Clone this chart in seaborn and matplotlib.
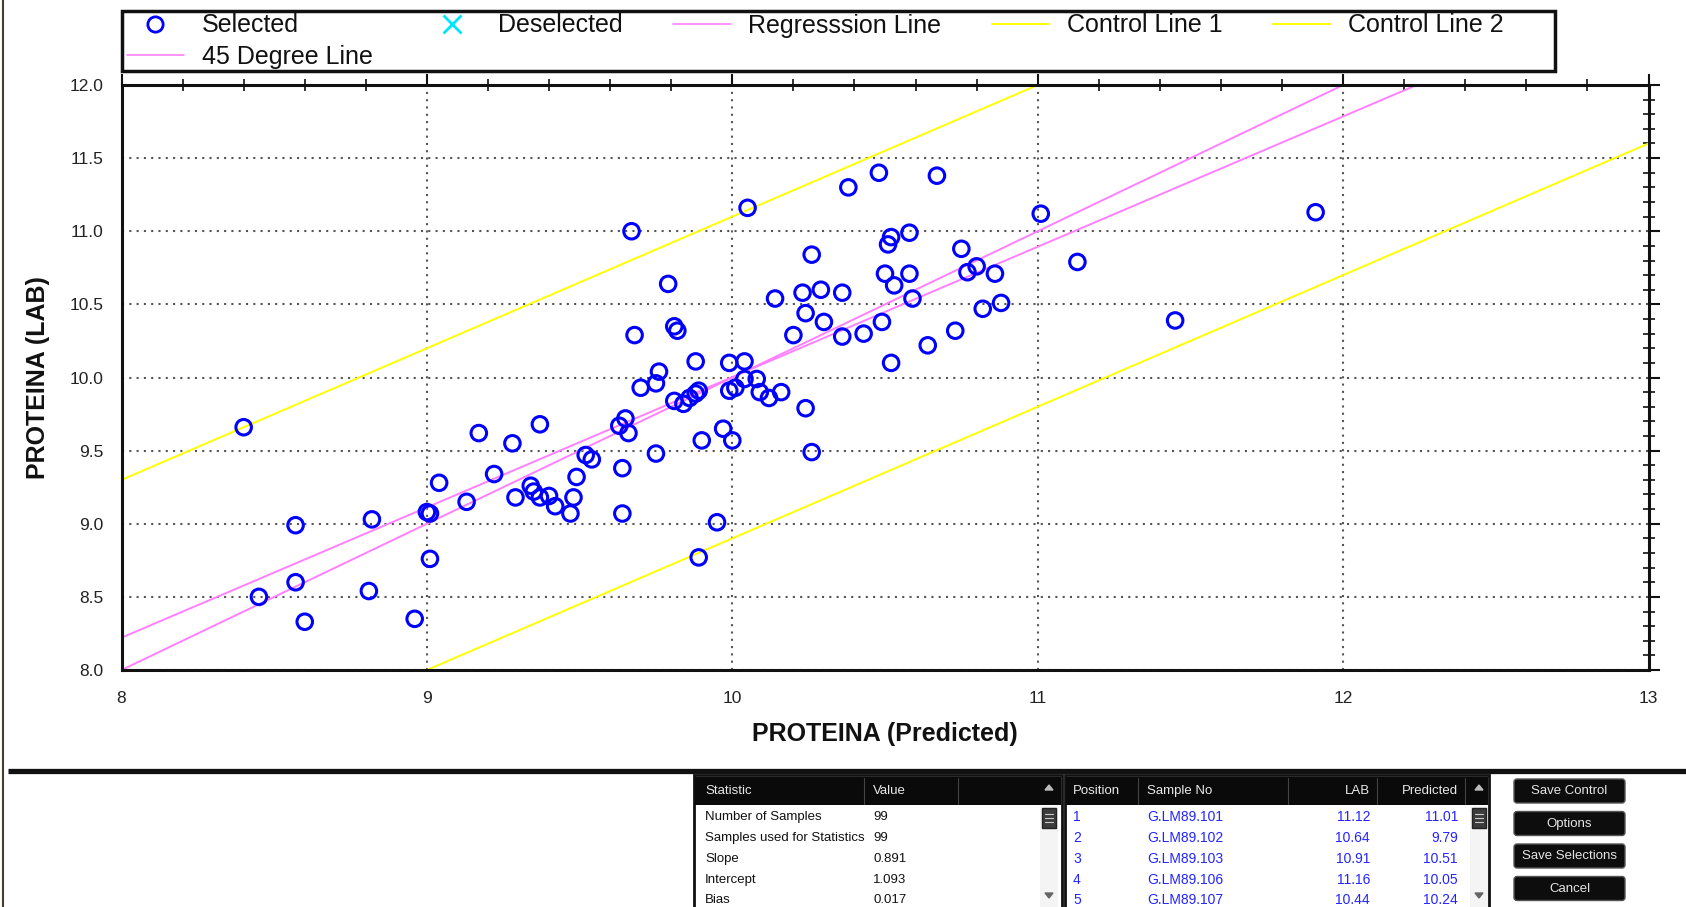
import matplotlib
import matplotlib.pyplot as plt
import numpy as np
import pandas as pd
import seaborn as sns
from matplotlib.lines import Line2D
from matplotlib.patches import FancyBboxPatch, Polygon, Rectangle
from matplotlib.ticker import FormatStrFormatter, MultipleLocator

matplotlib.use("Agg")

# PROTEINA predicted vs lab values
predicted = [
    8.40, 8.57, 8.57, 8.45, 8.60, 8.82, 8.81, 8.96, 9.00, 9.01,
    9.01, 9.04, 9.13, 9.17, 9.22, 9.28, 9.29, 9.34, 9.35, 9.37,
    9.37, 9.40, 9.42, 9.47, 9.48, 9.49, 9.52, 9.54, 9.63, 9.65,
    9.66, 9.64, 9.64, 9.67, 9.68, 9.70, 9.75, 9.75, 9.76, 9.79,
    9.81, 9.82, 9.81, 9.84, 9.86, 9.88, 9.89, 9.88, 9.90, 9.89,
    9.95, 9.97, 9.99, 10.00, 9.99, 10.01, 10.04, 10.04, 10.05, 10.08,
    10.09, 10.12, 10.16, 10.14, 10.20, 10.23, 10.24, 10.24, 10.26, 10.26,
    10.29, 10.30, 10.36, 10.36, 10.38, 10.43, 10.48, 10.49, 10.50, 10.51,
    10.52, 10.52, 10.53, 10.58, 10.58, 10.59, 10.64, 10.67, 10.73, 10.75,
    10.77, 10.80, 10.82, 10.86, 10.88, 11.01, 11.13, 11.45, 11.91,
]
lab = [
    9.66, 8.99, 8.60, 8.50, 8.33, 9.03, 8.54, 8.35, 9.08, 9.07,
    8.76, 9.28, 9.15, 9.62, 9.34, 9.55, 9.18, 9.26, 9.22, 9.68,
    9.18, 9.19, 9.12, 9.07, 9.18, 9.32, 9.47, 9.44, 9.67, 9.72,
    9.62, 9.38, 9.07, 11.00, 10.29, 9.93, 9.48, 9.96, 10.04, 10.64,
    10.35, 10.32, 9.84, 9.82, 9.86, 9.89, 9.91, 10.11, 9.57, 8.77,
    9.01, 9.65, 10.10, 9.57, 9.91, 9.93, 10.11, 9.99, 11.16, 9.99,
    9.90, 9.86, 9.90, 10.54, 10.29, 10.58, 10.44, 9.79, 9.49, 10.84,
    10.60, 10.38, 10.58, 10.28, 11.30, 10.30, 11.40, 10.38, 10.71, 10.91,
    10.96, 10.10, 10.63, 10.99, 10.71, 10.54, 10.22, 11.38, 10.32, 10.88,
    10.72, 10.76, 10.47, 10.71, 10.51, 11.12, 10.79, 10.39, 11.13,
]

reg_slope = 0.891
reg_intercept = 1.093
ctrl_slope = 0.9
ctrl1_intercept = 2.1
ctrl2_intercept = -0.1

stat_names = ["Number of Samples", "Samples used for Statistics", "Slope", "Intercept", "Bias"]
stat_values = ["99", "99", "0.891", "1.093", "0.017"]

sample_pos = ["1", "2", "3", "4", "5"]
sample_ids = ["G.LM89.101", "G.LM89.102", "G.LM89.103", "G.LM89.106", "G.LM89.107"]
sample_lab = ["11.12", "10.64", "10.91", "11.16", "10.44"]
sample_pred = ["11.01", "9.79", "10.51", "10.05", "10.24"]

buttons = ["Save Control", "Options", "Save Selections", "Cancel"]

W, H = 1686, 907
BLUE = "#0000ff"
PINK = "#ff80ff"
YELLOW = "#ffff00"

sns.set_theme(style="white")
plt.rcParams["font.family"] = ["Liberation Sans", "DejaVu Sans"]

fig = plt.figure(figsize=(W / 100, H / 100), dpi=100)

# background layer in pixel coordinates (legend frame, panel below the plot)
bg = fig.add_axes([0, 0, 1, 1])
bg.set_xlim(0, W)
bg.set_ylim(H, 0)
bg.axis("off")

bg.plot([3, 3], [0, H], color="#4a3b2c", lw=1.5)
bg.plot([8, W], [771, 771], color="#111111", lw=3.8, solid_capstyle="butt")
bg.add_patch(Rectangle((122, 11), 1433, 60, fc="white", ec="#111111", lw=2.5))

row_y = [817, 838, 859, 880, 900]


def scrollbar(x0, x1):
    bg.add_patch(Rectangle((x0, 806), x1 - x0, 110, fc="#f4f4f4", ec="none"))
    cx = (x0 + x1) / 2
    bg.add_patch(Polygon([[cx - 4, 790], [cx + 4, 790], [cx, 785]], color="#bbbbbb"))
    bg.add_patch(Polygon([[cx - 4, 893], [cx + 4, 893], [cx, 898]], color="#666666"))
    bg.add_patch(Rectangle((x0 + 2, 808), x1 - x0 - 4, 20, fc="#3c3c3c", ec="#222222"))
    for yy in (814, 818, 822):
        bg.plot([cx - 4, cx + 4], [yy, yy], color="#cccccc", lw=0.8)


# statistics table
bg.add_patch(Rectangle((694, 775), 368, 140, fc="white", ec="#111111", lw=2))
bg.add_patch(Rectangle((695, 777), 366, 28, fc="#0a0a0a", ec="none"))
for sx in (864, 958):
    bg.plot([sx, sx], [778, 804], color="#444444", lw=0.8)
bg.text(705, 791, "Statistic", color="#e8e8e8", fontsize=9.5, va="center")
bg.text(873, 791, "Value", color="#e8e8e8", fontsize=9.5, va="center")
scrollbar(1040, 1058)
for yy, name, val in zip(row_y, stat_names, stat_values):
    bg.text(705, yy, name, color="#111111", fontsize=9.5, va="center")
    bg.text(873, yy, val, color="#111111", fontsize=9.5, va="center")

# sample table
bg.add_patch(Rectangle((1065, 775), 424, 140, fc="white", ec="#111111", lw=2))
bg.add_patch(Rectangle((1066, 777), 422, 28, fc="#0a0a0a", ec="none"))
for sx in (1138, 1288, 1377, 1465):
    bg.plot([sx, sx], [778, 804], color="#444444", lw=0.8)
bg.text(1073, 791, "Position", color="#e8e8e8", fontsize=9.5, va="center")
bg.text(1147, 791, "Sample No", color="#e8e8e8", fontsize=9.5, va="center")
bg.text(1370, 791, "LAB", color="#e8e8e8", fontsize=9.5, va="center", ha="right")
bg.text(1458, 791, "Predicted", color="#e8e8e8", fontsize=9.5, va="center", ha="right")
scrollbar(1470, 1488)
for yy, p, sid, lv, pv in zip(row_y, sample_pos, sample_ids, sample_lab, sample_pred):
    bg.text(1073, yy, p, color="#2424ff", fontsize=10, va="center")
    bg.text(1147, yy, sid, color="#2424ff", fontsize=10, va="center")
    bg.text(1370, yy, lv, color="#2424ff", fontsize=10, va="center", ha="right")
    bg.text(1458, yy, pv, color="#2424ff", fontsize=10, va="center", ha="right")

# buttons
for i, label in enumerate(buttons):
    top = 779 + i * 32.5
    bg.add_patch(FancyBboxPatch((1514, top), 111, 24, boxstyle="round,pad=0,rounding_size=3",
                                fc="#0d0d0d", ec="#555555", lw=1))
    bg.text(1569.5, top + 12, label, color="#e4e4e4", fontsize=9.5, ha="center", va="center")

# main plot
ax = fig.add_axes([121.5 / W, 1 - 670 / H, (1648.5 - 121.5) / W, (670 - 85) / H])
ax.set_facecolor("white")

df = pd.DataFrame({"pred": predicted, "lab": lab})
xs = np.array([8.0, 13.0])
lines = pd.DataFrame({
    "x": xs,
    "reg": reg_slope * xs + reg_intercept,
    "ctrl1": ctrl_slope * xs + ctrl1_intercept,
    "ctrl2": ctrl_slope * xs + ctrl2_intercept,
    "deg45": xs,
})

sns.lineplot(data=lines, x="x", y="ctrl1", color=YELLOW, lw=1.4, ax=ax)
sns.lineplot(data=lines, x="x", y="ctrl2", color=YELLOW, lw=1.4, ax=ax)
sns.lineplot(data=lines, x="x", y="reg", color=PINK, lw=1.4, ax=ax)
sns.lineplot(data=lines, x="x", y="deg45", color=PINK, lw=1.4, ax=ax)
sns.scatterplot(data=df, x="pred", y="lab", marker="o", s=125, facecolors="none",
                edgecolor=BLUE, linewidth=2.2, ax=ax, zorder=5)

ax.set_xlim(8, 13)
ax.set_ylim(8, 12)
ax.xaxis.set_major_locator(MultipleLocator(1))
ax.xaxis.set_minor_locator(MultipleLocator(0.2))
ax.yaxis.set_major_locator(MultipleLocator(0.5))
ax.yaxis.set_minor_locator(MultipleLocator(0.1))
ax.yaxis.set_major_formatter(FormatStrFormatter("%.1f"))
ax.tick_params(which="major", direction="out", length=8, width=1.5, color="#111111",
               labelsize=12.5, labelcolor="#222222", top=True, right=True, pad=5)
ax.tick_params(which="minor", direction="inout", length=8, width=1.2, color="#111111",
               top=True, right=True)
ax.tick_params(axis="x", which="major", pad=7)
ax.grid(which="major", linestyle=(0, (1, 2.5)), color="#555555", linewidth=1.5)
ax.grid(which="minor", visible=False)
for sp in ax.spines.values():
    sp.set_color("#111111")
    sp.set_linewidth(2.2)

ax.set_xlabel("PROTEINA (Predicted)", fontsize=18, fontweight="bold", color="#111111", labelpad=12)
ax.set_ylabel("PROTEINA (LAB)", fontsize=18, fontweight="bold", color="#111111", labelpad=14)

handles = [
    Line2D([], [], ls="none", marker="o", ms=11, mfc="none", mec=BLUE, mew=2),
    Line2D([], [], color=PINK, lw=1.2),
    Line2D([], [], ls="none", marker="x", ms=13, mec="#00e5ff", mew=2),
    Line2D([], [], color=PINK, lw=1.2),
    Line2D([], [], color=YELLOW, lw=1.4),
    Line2D([], [], color=YELLOW, lw=1.4),
]
labels = ["Selected", "45 Degree Line", "Deselected", "Regresssion Line", "Control Line 1", "Control Line 2"]
fig.legend(handles, labels, loc="upper left",
           bbox_to_anchor=(124 / W, 1 - 11 / H, (1506 - 124) / W, 0.0),
           mode="expand", ncol=5, fontsize=18, frameon=False,
           handlelength=2.3, handletextpad=0.7, borderaxespad=0, borderpad=0.1,
           labelspacing=0.3, labelcolor="#111111")

fig.savefig("out.png", dpi=100)
